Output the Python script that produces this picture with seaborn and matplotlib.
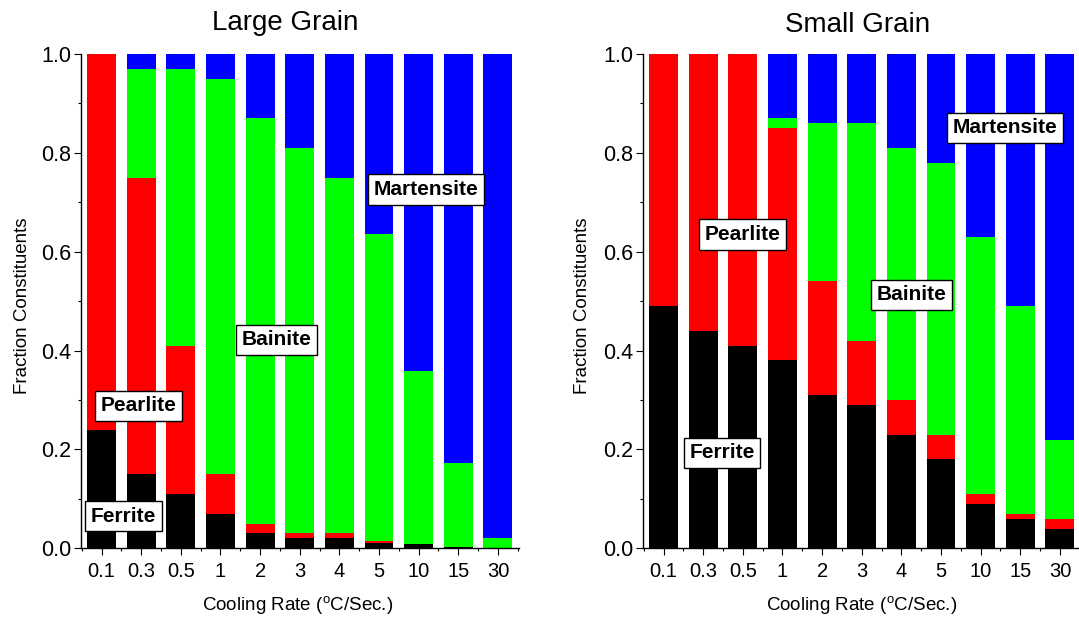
import matplotlib
matplotlib.use("Agg")
import matplotlib.pyplot as plt
from matplotlib.ticker import FixedLocator, MultipleLocator
import numpy as np
import pandas as pd
import seaborn as sns

# ---------------- data ----------------
rates = ["0.1", "0.3", "0.5", "1", "2", "3", "4", "5", "10", "15", "30"]

large_ferrite = [0.24, 0.15, 0.11, 0.07, 0.03, 0.02, 0.02, 0.01, 0.008, 0.003, 0.0]
large_pearlite = [0.76, 0.60, 0.30, 0.08, 0.02, 0.01, 0.01, 0.005, 0.0, 0.0, 0.0]
large_bainite = [0.0, 0.22, 0.56, 0.80, 0.82, 0.78, 0.72, 0.62, 0.35, 0.17, 0.02]
large_martensite = [0.0, 0.03, 0.03, 0.05, 0.13, 0.19, 0.25, 0.365, 0.642, 0.827, 0.98]

small_ferrite = [0.49, 0.44, 0.41, 0.38, 0.31, 0.29, 0.23, 0.18, 0.09, 0.06, 0.04]
small_pearlite = [0.51, 0.56, 0.59, 0.47, 0.23, 0.13, 0.07, 0.05, 0.02, 0.01, 0.02]
small_bainite = [0.0, 0.0, 0.0, 0.02, 0.32, 0.44, 0.51, 0.55, 0.52, 0.42, 0.16]
small_martensite = [0.0, 0.0, 0.0, 0.13, 0.14, 0.14, 0.19, 0.22, 0.37, 0.51, 0.78]

constituents = ["Martensite", "Bainite", "Pearlite", "Ferrite"]
colors = ["#0000FF", "#00FF00", "#FF0000", "#000000"]

large_labels = [("Ferrite", 0.555, 0.065), ("Pearlite", 0.93, 0.288),
                ("Bainite", 4.415, 0.422), ("Martensite", 8.19, 0.726)]
small_labels = [("Pearlite", 2.0, 0.635), ("Ferrite", 1.476, 0.193),
                ("Bainite", 6.26, 0.513), ("Martensite", 8.61, 0.851)]

# ---------------- style ----------------
sns.set_theme(style="ticks")
plt.rcParams['font.family'] = ['Liberation Sans', 'DejaVu Sans']
plt.rcParams['mathtext.fontset'] = 'custom'
plt.rcParams['mathtext.rm'] = 'Liberation Sans'
plt.rcParams['mathtext.it'] = 'Liberation Sans'

W, H = 1079, 628
fig = plt.figure(figsize=(W / 100, H / 100), dpi=100)
fig.patch.set_facecolor("white")

ax_w = 437.5 / W
ax_h = 494.3 / H
ax_y = (H - 548.3) / H
ax1 = fig.add_axes([81 / W, ax_y, ax_w, ax_h])
ax2 = fig.add_axes([643 / W, ax_y, ax_w, ax_h])


def draw(ax, ferrite, pearlite, bainite, martensite, labels):
    f = np.array(ferrite)
    p = np.array(pearlite)
    b = np.array(bainite)
    m = np.array(martensite)
    tops = [f + p + b + m, f + p + b, f + p, f]
    for name, top, col in zip(constituents, tops, colors):
        df = pd.DataFrame({"rate": rates, "value": top})
        sns.barplot(data=df, x="rate", y="value", order=rates, color=col,
                    saturation=1, width=0.73, errorbar=None, ax=ax,
                    linewidth=0, edgecolor="none")
    ax.set_xlabel("")
    ax.set_ylabel("")
    ax.set_xlim(-0.52, 10.52)
    ax.set_ylim(0, 1.0)
    ax.set_facecolor("white")
    ax.grid(False)
    for s in ["top", "right"]:
        ax.spines[s].set_visible(False)
    for s in ["left", "bottom"]:
        ax.spines[s].set_color("black")
        ax.spines[s].set_linewidth(1.0)
    ax.yaxis.set_major_locator(FixedLocator(np.arange(0, 1.01, 0.2)))
    ax.set_yticklabels([f"{v:.1f}" for v in np.arange(0, 1.01, 0.2)])
    ax.yaxis.set_minor_locator(MultipleLocator(0.1))
    ax.xaxis.set_major_locator(FixedLocator(range(len(rates))))
    ax.set_xticklabels(rates)
    ax.xaxis.set_minor_locator(FixedLocator(np.arange(-0.5, 10.6, 1.0)))
    ax.tick_params(which="both", direction="out", color="black", width=0.8,
                   bottom=True, left=True, top=False, right=False)
    ax.tick_params(which="major", length=5)
    ax.tick_params(which="minor", length=2.5)
    ax.tick_params(axis="y", which="major", labelsize=15.5, pad=2, labelcolor="black")
    ax.tick_params(axis="x", which="major", labelsize=14.5, pad=5, labelcolor="black")
    for text, x, y in labels:
        ax.text(x, y, text, ha="center", va="center", fontsize=15,
                fontweight="bold", color="black", zorder=10,
                bbox=dict(boxstyle="square,pad=0.27", fc="white", ec="black", lw=1))


draw(ax1, large_ferrite, large_pearlite, large_bainite, large_martensite, large_labels)
draw(ax2, small_ferrite, small_pearlite, small_bainite, small_martensite, small_labels)

# titles
fig.text(285 / W, 1 - 23 / H, "Large Grain", ha="center", va="center", fontsize=20, color="black")
fig.text(858 / W, 1 - 25 / H, "Small Grain", ha="center", va="center", fontsize=20, color="black")

# y labels
for xpix in (22.5, 582.5):
    fig.text(xpix / W, 1 - 306 / H, "Fraction Constituents", rotation=90,
             ha="center", va="center", fontsize=13.5, color="black")

# x labels
xl = r"Cooling Rate ($^{\mathrm{o}}$C/Sec.)"
fig.text(297.5 / W, 1 - 605 / H, xl, ha="center", va="center", fontsize=13.5, color="black")
fig.text(861.7 / W, 1 - 605 / H, xl, ha="center", va="center", fontsize=13.5, color="black")

fig.savefig("out.png", dpi=100, facecolor="white")
